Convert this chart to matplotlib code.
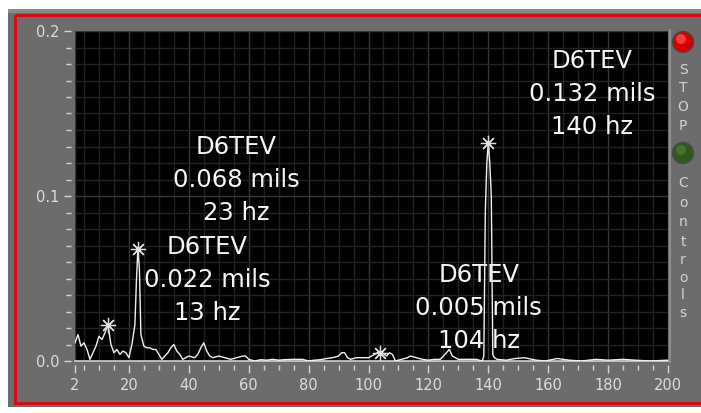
import numpy as np
import matplotlib
matplotlib.use('Agg')
import matplotlib.pyplot as plt
from matplotlib.patches import Rectangle, Circle

#************** spectrum data (amplitude in mils vs frequency in hz) **************
freq = [2, 3, 4, 5, 6, 7, 8, 9, 10, 11, 12, 13, 14, 15, 16, 17, 18, 19, 20,
        21, 22, 22.5, 23, 23.5, 24, 25, 26, 27, 28, 29, 30, 31, 32, 33, 34, 35,
        36, 37, 38, 39, 40, 42, 43, 44, 45, 46, 47, 48, 50, 52, 54, 56, 58, 59,
        60, 62, 64, 66, 68, 70, 72, 75, 78, 80, 82, 84, 86, 88, 90, 91, 92, 93,
        94, 96, 98, 100, 102, 104, 106, 107, 108, 109, 111, 113, 114, 116, 118,
        120, 122, 124, 126, 127, 128, 130, 132, 134, 136, 137, 138, 138.5, 139,
        139.5, 140, 140.5, 141, 141.5, 142, 143, 146, 149, 152, 156, 159, 163,
        167, 171, 176, 180, 185, 189, 194, 200]
amp = [0.011, 0.016, 0.009, 0.011, 0.007, 0.001, 0.005, 0.009, 0.015, 0.013, 0.017, 0.022, 0.010, 0.005, 0.007, 0.004, 0.006, 0.005, 0.002,
       0.010, 0.022, 0.048, 0.068, 0.056, 0.016, 0.009, 0.008, 0.008, 0.007, 0.007, 0.004, 0.001, 0.003, 0.005, 0.008, 0.010,
       0.006, 0.004, 0.001, 0.002, 0.003, 0.002, 0.004, 0.008, 0.011, 0.006, 0.003, 0.002, 0.003, 0.002, 0.001, 0.002, 0.003, 0.003,
       0.001, 0.000, 0.0008, 0.0005, 0.001, 0.0005, 0.0008, 0.001, 0.001, 0.000, 0.0005, 0.0008, 0.0015, 0.002, 0.003, 0.005, 0.005, 0.002,
       0.001, 0.002, 0.002, 0.002, 0.004, 0.006, 0.003, 0.005, 0.004, 0.000, 0.001, 0.002, 0.003, 0.002, 0.001,
       0.0005, 0.001, 0.001, 0.005, 0.007, 0.003, 0.001, 0.001, 0.001, 0.001, 0.0005, 0.000, 0.003, 0.090,
       0.120, 0.132, 0.120, 0.100, 0.004, 0.002, 0.001, 0.0005, 0.0015, 0.002, 0.0005, 0.000, 0.0015,
       0.0005, 0.000, 0.001, 0.0005, 0.001, 0.0005, 0.000, 0.0005]

# picked peaks and where their readouts sit
peak_freq = [13, 23, 104, 140]
peak_amp = [0.022, 0.068, 0.005, 0.132]
label_x = [46.1, 55.8, 136.8, 174.6]
label_y = [0.049, 0.1097, 0.0321, 0.1618]
channel = 'D6TEV'

x_ticks = [2, 20, 40, 60, 80, 100, 120, 140, 160, 180, 200]
y_ticks = [0.0, 0.1, 0.2]

W, H = 701, 413
fig = plt.figure(figsize=(W/100., H/100.), dpi=100)
fig.patch.set_facecolor('white')

#************** front panel (pixel coords) **************
bg = fig.add_axes([0, 0, 1, 1], zorder=0)
bg.set_xlim(0, W)
bg.set_ylim(H, 0)
bg.axis('off')
bg.add_patch(Rectangle((8, 9), W, 398, fc='#6c6c6c', ec='none'))
bg.add_patch(Rectangle((8, 9), W, 4, fc='#8a8a8a', ec='none'))
bg.add_patch(Rectangle((15, 15), W, 388, fc='none', ec='#e8000a', lw=2.0))
bg.plot([670, 670], [30, 362], color='#8e8e8e', lw=1.5)

# stop / controls buttons
bg.add_patch(Circle((683, 42), 10.5, fc='#d40000', ec='#4a4a4a', lw=1))
bg.add_patch(Circle((681, 39), 5, fc='#ff4a4a', ec='none', alpha=0.8))
bg.add_patch(Circle((683, 153), 10.5, fc='#2d5a1a', ec='#4a4a4a', lw=1))
bg.add_patch(Circle((681, 150), 5, fc='#4a7a32', ec='none', alpha=0.8))
for ch, yy in zip('STOP', [70, 88, 107, 126]):
    bg.text(683, yy, ch, color='#d2d2d2', fontsize=10, ha='center', va='center')
for ch, yy in zip('Controls', [183, 203, 222, 242, 260, 278, 295, 313]):
    bg.text(683, yy, ch, color='#d2d2d2', fontsize=10, ha='center', va='center')

#************** spectrum plot **************
ax = fig.add_axes([75./W, 1-361./H, (668-75.)/W, (361-31.)/H], zorder=1)
ax.set_facecolor('black')
ax.set_xlim(2, 200)
ax.set_ylim(0, 0.2)

ax.set_xticks(x_ticks)
ax.set_xticks([v for v in range(5, 200, 5) if v % 20 != 0], minor=True)
ax.set_yticks(y_ticks)
ax.set_yticks(np.arange(0.01, 0.2, 0.01), minor=True)
ax.set_xticklabels([str(v) for v in x_ticks])
ax.set_yticklabels(['%.1f' % v for v in y_ticks])

ax.grid(which='major', color='#363636', lw=1.0)
ax.grid(which='minor', color='#222222', lw=1.0)
ax.set_axisbelow(True)

for s in ['top', 'right']:
    ax.spines[s].set_visible(False)
for s in ['left', 'bottom']:
    ax.spines[s].set_position(('outward', 3))
    ax.spines[s].set_visible(False)
ax.axhline(0, color='#d0d0d0', lw=1.2, clip_on=False, zorder=3)

ax.tick_params(which='both', direction='out', colors='#d4d4d4',
               labelcolor='#dcdcdc', labelsize=10.5, width=1)
ax.tick_params(axis='x', which='major', length=6, pad=3)
ax.tick_params(axis='x', which='minor', length=3.5)
ax.tick_params(axis='y', which='major', length=5, pad=3)
ax.tick_params(axis='y', which='minor', length=3.5)

ax.plot(freq, amp, color='#f0f0f0', lw=1.0, zorder=4)
ax.plot(peak_freq, peak_amp, ls='none', marker=(8, 2, 0), ms=11,
        mec='#e0e0e0', mew=0.9, zorder=5)

for f, a, lx, ly in zip(peak_freq, peak_amp, label_x, label_y):
    lines = [channel, '%.3f mils' % a, '%d hz' % f]
    for off, txt in zip([23.8, 0, -23.8], lines):
        ax.annotate(txt, (lx, ly), xytext=(0, off), textcoords='offset points',
                    ha='center', va='center', color='#f6f6f6', fontsize=17.5,
                    zorder=2)

fig.savefig('out.png', dpi=100)
